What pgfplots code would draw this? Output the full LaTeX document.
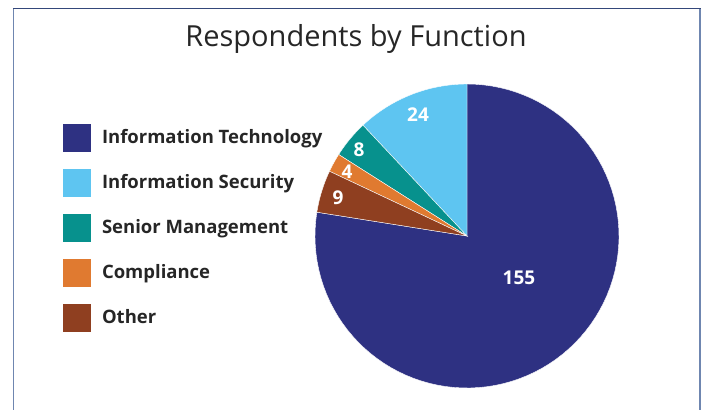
\documentclass[border=0pt]{standalone}
\usepackage{pgfplots}
\usepackage{pgfplotstable}
\pgfplotsset{compat=1.18}
\usepackage{fontspec}
\setmainfont{Open Sans}
\definecolor{cIT}{HTML}{2E3182}
\definecolor{cIS}{HTML}{5EC5F1}
\definecolor{cSM}{HTML}{07918D}
\definecolor{cCO}{HTML}{E07A30}
\definecolor{cOT}{HTML}{8F3F20}
\definecolor{frameL}{HTML}{6F86B0}
\definecolor{frameT}{HTML}{34477A}
\definecolor{txt}{HTML}{262626}
% values
\def\vIT{155}\def\vIS{24}\def\vSM{8}\def\vCO{4}\def\vOT{9}
\pgfmathsetmacro{\tot}{\vIT+\vIS+\vSM+\vCO+\vOT}
\pgfmathsetmacro{\aA}{90}
\pgfmathsetmacro{\aB}{\aA+\vIS/\tot*360}
\pgfmathsetmacro{\aC}{\aB+\vSM/\tot*360}
\pgfmathsetmacro{\aD}{\aC+\vCO/\tot*360}
\pgfmathsetmacro{\aE}{\aD+\vOT/\tot*360}
\pgfmathsetmacro{\aF}{\aE+\vIT/\tot*360}
\def\cx{467}\def\cy{236}\def\R{152}
\pgfplotstableread{
x y label
418 115 24
359 150 8
347 172 4
338 198 9
519 278 155
}\labels
\begin{document}
\begin{tikzpicture}
\begin{axis}[
  scale only axis, width=706pt, height=410pt,
  xmin=0, xmax=706, ymin=0, ymax=410, y dir=reverse,
  hide axis, clip=false,
  legend style={at={(axis cs:63,124)}, anchor=north west, draw=none, fill=none,
    inner sep=0pt, outer sep=0pt, row sep=17pt, column sep=11pt,
    font=\bfseries\fontsize{18.5}{22}\selectfont, text=txt,
    nodes={inner sep=0pt}},
  legend cell align=left,
  legend image code/.code={\fill[#1, draw=none] (0pt,-14.5pt) rectangle (28pt,13.5pt);},
  every axis plot/.append style={draw=white, line width=0.4pt, samples=90, variable=\t},
]
\addplot[fill=cIT, domain=\aE:\aF] ({\cx+\R*cos(\t)},{\cy-\R*sin(\t)}) -- (axis cs:\cx,\cy) -- cycle;
\addlegendentry{Information Technology}
\addplot[fill=cIS, domain=\aA:\aB] ({\cx+\R*cos(\t)},{\cy-\R*sin(\t)}) -- (axis cs:\cx,\cy) -- cycle;
\addlegendentry{Information Security}
\addplot[fill=cSM, domain=\aB:\aC] ({\cx+\R*cos(\t)},{\cy-\R*sin(\t)}) -- (axis cs:\cx,\cy) -- cycle;
\addlegendentry{Senior Management}
\addplot[fill=cCO, domain=\aC:\aD] ({\cx+\R*cos(\t)},{\cy-\R*sin(\t)}) -- (axis cs:\cx,\cy) -- cycle;
\addlegendentry{Compliance}
\addplot[fill=cOT, domain=\aD:\aE] ({\cx+\R*cos(\t)},{\cy-\R*sin(\t)}) -- (axis cs:\cx,\cy) -- cycle;
\addlegendentry{Other}
\addplot[draw=none, mark=none, nodes near coords, point meta=explicit symbolic,
  every node near coord/.style={anchor=center, text=white, inner sep=0pt,
    font=\bfseries\fontsize{19}{22}\selectfont}]
  table[x=x, y=y, meta=label] {\labels};
\path (axis cs:0,0) rectangle (axis cs:706,410);
\draw[frameL, line width=1.6pt] (axis cs:13.5,8.5) -- (axis cs:13.5,410);
\draw[frameL, line width=1.6pt] (axis cs:700,8.5) -- (axis cs:700,410);
\draw[frameT, line width=1.2pt] (axis cs:13,8.5) -- (axis cs:700.8,8.5);
\node[font=\fontsize{29}{34}\selectfont, text=txt, anchor=base] at (axis cs:356,46) {Respondents by Function};
\end{axis}
\end{tikzpicture}
\end{document}
